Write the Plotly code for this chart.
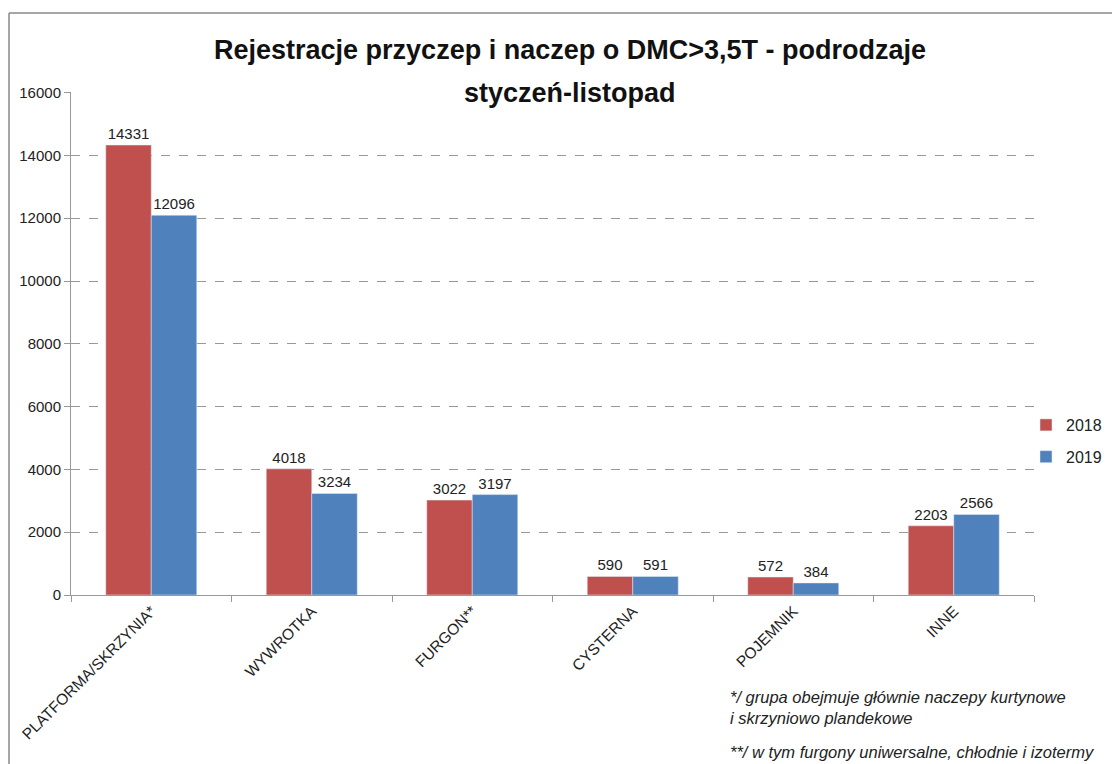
import plotly.graph_objects as go

categories = ["PLATFORMA/SKRZYNIA*", "WYWROTKA", "FURGON**", "CYSTERNA", "POJEMNIK", "INNE"]
v2018 = [14331, 4018, 3022, 590, 572, 2203]
v2019 = [12096, 3234, 3197, 591, 384, 2566]
yticks = [0, 2000, 4000, 6000, 8000, 10000, 12000, 14000, 16000]

# page offset of the figure inside the browser window
OFF = 8
W, H = 1120 - OFF, 764 - OFF
L, R, T, B = 71 - OFF, 1034 - OFF, 92 - OFF, 595 - OFF

def px(x):
    return (x - OFF - L) / (R - L)

def py(y):
    return (B - (y - OFF)) / (B - T)

fig = go.Figure()
fig.add_bar(name="2018", x=categories, y=v2018, marker_color="#C0504D", legendgroup="a",
            text=[str(v) for v in v2018], textposition="outside",
            textfont=dict(size=15, color="#222"), cliponaxis=False)
fig.add_bar(name="2019", x=categories, y=v2019, marker_color="#4F81BD", legendgroup="b",
            text=[str(v) for v in v2019], textposition="outside",
            textfont=dict(size=15, color="#222"), cliponaxis=False)

fig.update_layout(
    width=W, height=H,
    margin=dict(l=L, r=W - R, t=T, b=H - B),
    paper_bgcolor="white", plot_bgcolor="white",
    barmode="group", bargap=0.433, bargroupgap=0,
    font=dict(family="Liberation Sans, Arial", size=14, color="#222"),
    legend=dict(x=px(1026), y=py(408), xanchor="left", yanchor="top",
                font=dict(size=16, color="#222"), itemwidth=30, tracegroupgap=8,
                bgcolor="rgba(0,0,0,0)"),
    uniformtext=dict(minsize=10),
)
fig.update_yaxes(range=[0, 16020], tickvals=yticks, ticktext=[str(v) for v in yticks],
                 showgrid=True, gridcolor="#999",
                 griddash="dash", gridwidth=1, showline=True, linecolor="#999",
                 ticks="outside", ticklen=6, tickcolor="#999", zeroline=False,
                 tickfont=dict(size=15, color="#222"))
fig.update_xaxes(showline=True, linecolor="#999", ticks="outside", tickson="boundaries",
                 ticklen=6, tickcolor="#999", tickangle=-45,
                 tickfont=dict(size=15.5, color="#222"))

# title as two centered lines
for txt, yy in [("Rejestracje przyczep i naczep o DMC>3,5T - podrodzaje", 50),
                ("styczeń-listopad", 93)]:
    fig.add_annotation(text=f"<b>{txt}</b>", xref="paper", yref="paper", x=px(570), y=py(yy),
                       xanchor="center", yanchor="middle", showarrow=False,
                       font=dict(size=27, color="#111", family="Liberation Sans, Arial"))

# chart frame
fig.add_shape(type="line", xref="paper", yref="paper", x0=px(OFF + 1), x1=px(1120), y0=py(13), y1=py(13),
              line=dict(color="#888", width=1.5))
fig.add_shape(type="line", xref="paper", yref="paper", x0=px(OFF + 1), x1=px(OFF + 1), y0=py(13), y1=py(764),
              line=dict(color="#888", width=1.5))

notes = [
    ("*/ grupa obejmuje głównie naczepy kurtynowe", 697),
    ("i skrzyniowo plandekowe", 718),
    ("**/ w tym furgony uniwersalne, chłodnie i izotermy", 752),
]
for txt, yy in notes:
    fig.add_annotation(text=f"<i>{txt}</i>", xref="paper", yref="paper", x=px(728), y=py(yy),
                       xanchor="left", yanchor="middle", showarrow=False,
                       font=dict(size=16.5, color="#222", family="Liberation Sans, Arial"))

fig.write_html("out.html")
